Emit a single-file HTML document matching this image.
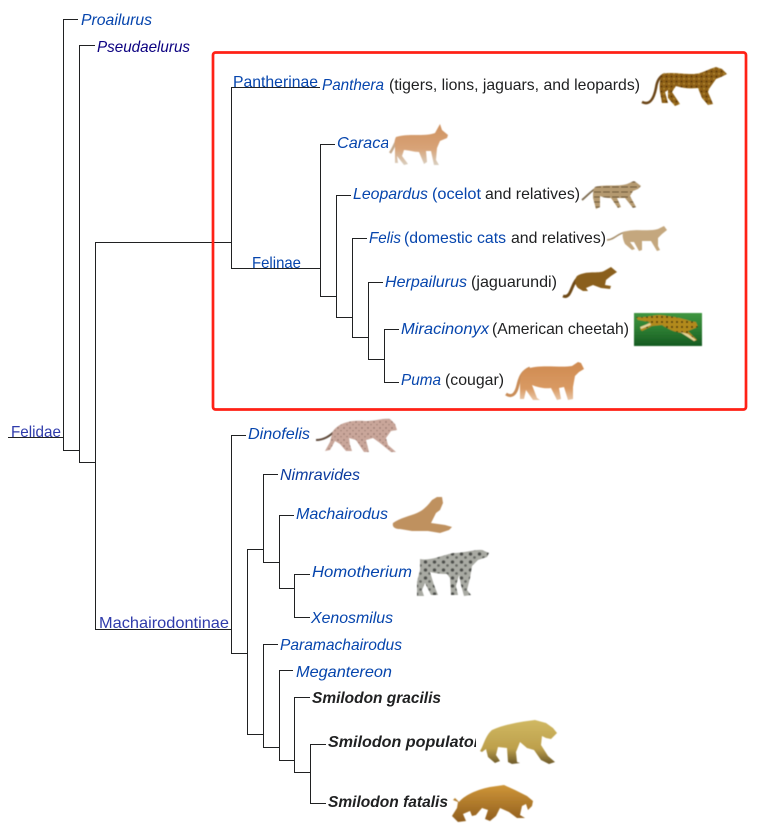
<!DOCTYPE html>
<html>
<head>
<meta charset="utf-8">
<style>
html,body{margin:0;padding:0;background:#fff;}
svg{display:block;}
text{font-family:"Liberation Sans",sans-serif;font-size:16px;}
.i{font-style:italic;fill:#0645ad;}
.n{fill:#0645ad;}
.v{fill:#2f3bab;}
.d{fill:#202122;}
.b{font-style:italic;font-weight:bold;fill:#202122;}
.l{fill:none;stroke:#202122;stroke-width:1;}
</style>
</head>
<body>
<svg width="772" height="824" viewBox="0 0 772 824" xmlns="http://www.w3.org/2000/svg">
<defs>
<filter id="s" x="-5%" y="-5%" width="110%" height="110%"><feGaussianBlur stdDeviation="0.5"/></filter>
<pattern id="leo" width="5" height="5" patternUnits="userSpaceOnUse"><rect width="5" height="5" fill="#8f6118"/><circle cx="1.5" cy="1.5" r=".9" fill="#4a2b0c"/><circle cx="4" cy="3.8" r=".7" fill="#c09a3a"/></pattern>
<pattern id="oce" width="9" height="5" patternUnits="userSpaceOnUse"><rect width="9" height="5" fill="#b59a70"/><rect y="1.5" width="7" height="1" fill="#5c4528"/></pattern>
<pattern id="din" width="6" height="6" patternUnits="userSpaceOnUse"><rect width="6" height="6" fill="#c9a69a"/><circle cx="2" cy="2" r=".7" fill="#80635a"/><circle cx="5" cy="4.6" r=".6" fill="#8e7066"/></pattern>
<pattern id="hom" width="9" height="8" patternUnits="userSpaceOnUse"><rect width="9" height="8" fill="#a9aaa3"/><circle cx="2.5" cy="2" r="1.8" fill="#4d504c"/><circle cx="6.5" cy="5.5" r="1.4" fill="#666964"/></pattern>
<pattern id="che" width="5" height="5" patternUnits="userSpaceOnUse"><rect width="5" height="5" fill="#b28a1e"/><circle cx="2" cy="2" r="1" fill="#3d2c0a"/></pattern>
<linearGradient id="gr" x1="0" y1="0" x2="0" y2="1"><stop offset="0" stop-color="#3f9640"/><stop offset=".55" stop-color="#2a7a30"/><stop offset="1" stop-color="#155a22"/></linearGradient>
<linearGradient id="pu" x1="0" y1="0" x2="0" y2="1"><stop offset="0" stop-color="#cf8a50"/><stop offset=".7" stop-color="#d99a63"/><stop offset="1" stop-color="#e8c6a6"/></linearGradient>
<linearGradient id="ca" x1="0" y1="0" x2="0" y2="1"><stop offset="0" stop-color="#cf9260"/><stop offset=".6" stop-color="#d8a377"/><stop offset="1" stop-color="#d9cfc0"/></linearGradient>
<linearGradient id="po" x1="0" y1="0" x2="0" y2="1"><stop offset="0" stop-color="#d0b862"/><stop offset=".65" stop-color="#bda04c"/><stop offset="1" stop-color="#6d5a2a"/></linearGradient>
<linearGradient id="fa" x1="0" y1="0" x2="0" y2="1"><stop offset="0" stop-color="#cf9638"/><stop offset="1" stop-color="#8f5d1e"/></linearGradient>
</defs>

<!-- connectors -->
<path class="l" d="M63.5 19.5H78M63.5 19V451M8 437.5H63.5M63 450.5H79.5"/>
<path class="l" d="M79.5 45.5H95M79.5 45V463M79 462.5H95.5"/>
<path class="l" d="M95.5 242V630M95 242.5H231.5M95 629.5H231.5"/>
<path class="l" d="M231.5 87V269M231 87.5H320M231 268.5H320.5"/>
<path class="l" d="M320.5 144V297M320 144.5H335M320 296.5H336.5"/>
<path class="l" d="M336.5 195V318M336 195.5H351M336 317.5H352.5"/>
<path class="l" d="M352.5 238V338M352 238.5H367M352 337.5H368.5"/>
<path class="l" d="M368.5 282V360M368 282.5H383M368 359.5H384.5"/>
<path class="l" d="M384.5 329V383M384 329.5H399M384 382.5H399"/>
<path class="l" d="M231.5 435V654M231 435.5H246M231 653.5H247.5"/>
<path class="l" d="M247.5 549V735M247 549.5H263.5M247 734.5H263.5"/>
<path class="l" d="M263.5 474V563M263 474.5H278M263 562.5H279.5"/>
<path class="l" d="M279.5 515V589M279 515.5H294M279 588.5H295"/>
<path class="l" d="M294.5 574V618M294 574.5H310M294 617.5H310"/>
<path class="l" d="M263.5 644V748M263 644.5H278M263 747.5H279.5"/>
<path class="l" d="M279.5 670V761M279 670.5H293M279 760.5H294.5"/>
<path class="l" d="M294.5 697V773M294 697.5H310M294 772.5H310.5"/>
<path class="l" d="M310.5 744V804M310 744.5H326M310 803.5H326"/>

<!-- labels -->
<text class="i" x="81" y="25" textLength="71" lengthAdjust="spacingAndGlyphs">Proailurus</text>
<text class="i" x="97" y="52" textLength="93" lengthAdjust="spacingAndGlyphs" style="fill:#0b0080">Pseudaelurus</text>
<text class="n" x="233" y="87" textLength="85" lengthAdjust="spacingAndGlyphs">Pantherinae</text>
<text class="i" x="322" y="90" textLength="62" lengthAdjust="spacingAndGlyphs">Panthera</text>
<text class="d" x="389" y="90" textLength="251" lengthAdjust="spacingAndGlyphs">(tigers, lions, jaguars, and leopards)</text>
<text class="i" x="337" y="148" textLength="56" lengthAdjust="spacingAndGlyphs">Caracal</text>
<text class="n" x="252" y="268" textLength="49" lengthAdjust="spacingAndGlyphs">Felinae</text>
<text class="i" x="353" y="199" textLength="75" lengthAdjust="spacingAndGlyphs">Leopardus</text>
<text class="n" x="432" y="199" textLength="49" lengthAdjust="spacingAndGlyphs">(ocelot</text>
<text class="d" x="485" y="199" textLength="95" lengthAdjust="spacingAndGlyphs">and relatives)</text>
<text class="i" x="369" y="243" textLength="32" lengthAdjust="spacingAndGlyphs">Felis</text>
<text class="n" x="404" y="243" textLength="102" lengthAdjust="spacingAndGlyphs">(domestic cats</text>
<text class="d" x="511" y="243" textLength="95" lengthAdjust="spacingAndGlyphs">and relatives)</text>
<text class="i" x="385" y="287" textLength="82" lengthAdjust="spacingAndGlyphs">Herpailurus</text>
<text class="d" x="471" y="287" textLength="86" lengthAdjust="spacingAndGlyphs">(jaguarundi)</text>
<text class="i" x="401" y="334" textLength="88" lengthAdjust="spacingAndGlyphs">Miracinonyx</text>
<text class="d" x="492" y="334" textLength="137" lengthAdjust="spacingAndGlyphs">(American cheetah)</text>
<text class="i" x="401" y="385" textLength="40" lengthAdjust="spacingAndGlyphs">Puma</text>
<text class="d" x="445" y="385" textLength="59" lengthAdjust="spacingAndGlyphs">(cougar)</text>
<text class="v" x="11" y="437" textLength="50" lengthAdjust="spacingAndGlyphs">Felidae</text>
<text class="v" x="99" y="628" textLength="130" lengthAdjust="spacingAndGlyphs">Machairodontinae</text>
<text class="i" x="248" y="439" textLength="62" lengthAdjust="spacingAndGlyphs">Dinofelis</text>
<text class="i" x="280" y="480" textLength="80" lengthAdjust="spacingAndGlyphs" style="fill:#0a3a9e">Nimravides</text>
<text class="i" x="296" y="519" textLength="92" lengthAdjust="spacingAndGlyphs">Machairodus</text>
<text class="i" x="312" y="577" textLength="100" lengthAdjust="spacingAndGlyphs">Homotherium</text>
<text class="i" x="311" y="623" textLength="82" lengthAdjust="spacingAndGlyphs">Xenosmilus</text>
<text class="i" x="280" y="650" textLength="122" lengthAdjust="spacingAndGlyphs">Paramachairodus</text>
<text class="i" x="296" y="677" textLength="96" lengthAdjust="spacingAndGlyphs">Megantereon</text>
<text class="b" x="312" y="703" textLength="129" lengthAdjust="spacingAndGlyphs">Smilodon gracilis</text>
<text class="b" x="328" y="747" textLength="152" lengthAdjust="spacingAndGlyphs">Smilodon populator</text>
<text class="b" x="328" y="807" textLength="120" lengthAdjust="spacingAndGlyphs">Smilodon fatalis</text>

<!-- clipping covers -->
<rect x="388" y="125" width="62" height="42" fill="#fff"/>
<rect x="476" y="718" width="82" height="48" fill="#fff"/>

<!-- animals -->
<g filter="url(#s)">
<!-- Panthera -->
<path fill="none" stroke="#6b4515" stroke-width="2.5" d="M642 102C650 106 654 98 656 88C657 80 660 76 665 74"/>
<path fill="url(#leo)" d="M662 74C672 71 690 76 700 73C706 71 712 68 716 67L722 69L727 74L721 77L716 79C712 85 709 88 708 92L713 104L708 105L702 98L698 88C690 89 682 88 676 86L672 92L680 104L675 106L668 98L668 90L665 92L668 103L662 103L660 92C659 84 660 78 662 74Z"/>
<!-- Caracal -->
<path fill="none" stroke="#c4a98c" stroke-width="2.5" d="M390 153C393 149 395 143 398 138"/>
<path fill="url(#ca)" d="M396 137C408 133 425 137 435 133L440 124L442 130L448 135L447 138L440 141L437 148L436 160L439 165L434 165L431 151L426 151L427 162L424 164L419 152C414 152 408 150 404 150L402 156L408 164L404 165L397 156L398 163L395 163L395 146C394 142 395 139 396 137Z"/>
<!-- Leopardus -->
<path fill="none" stroke="#7d6a50" stroke-width="1.8" d="M582 200C588 195 592 190 598 187"/>
<path fill="url(#oce)" d="M595 187C605 184 617 187 627 184L634 181L637 183L641 186L638 189L633 191L630 196L636 207L633 208L625 198L617 198L621 207L618 208L611 198C606 198 602 197 600 196L600 207L596 209L593 198C593 193 593 189 595 187Z"/>
<!-- Felis -->
<path fill="none" stroke="#a58c68" stroke-width="1.5" d="M607 240C614 240 618 233 626 232"/>
<path fill="#c4a77e" d="M623 232C635 228 648 232 658 229L664 226L667 230L662 234L658 238L658 246L660 250L657 251L651 241L642 241L642 250L639 251L634 242L630 242L635 249L632 250L625 244C623 240 622 235 623 232Z"/>
<!-- Herpailurus -->
<path fill="none" stroke="#6e4a16" stroke-width="3" d="M563 296C568 298 570 293 572 288C574 283 576 279 580 276"/>
<path fill="#8a5f1c" d="M577 276C587 270 598 274 604 271L611 267L617 272L611 276L606 280L605 285L611 286L610 289L601 288L593 285L586 288L588 291L583 291L578 288C575 285 574 280 577 276Z"/>
<!-- Miracinonyx -->
<rect x="634" y="313" width="68" height="33" fill="url(#gr)"/>
<path fill="url(#che)" d="M636 317C645 318 652 315 660 315C670 316 682 318 690 321L696 322L698 327L693 329L688 331L697 340L694 341L682 333C674 332 668 329 662 325L652 326L642 331L640 329L650 322L638 320Z"/>
<path fill="#e6d59a" d="M640 327L650 323L651 325L641 329ZM680 332L688 334L696 340L694 341Z"/>
<!-- Puma -->
<path fill="none" stroke="#c98d58" stroke-width="3" d="M506 394C512 398 516 394 518 385C520 376 523 371 530 368"/>
<path fill="url(#pu)" d="M526 369C540 364 560 368 572 366L578 362L581 363L584 369L579 372L575 376L573 387L573 399L568 400L564 387L559 388L561 399L557 400L551 388C544 389 537 387 532 385L537 398L540 400L533 400L526 390L524 399L520 399L520 388C520 378 521 372 526 369Z"/>
<!-- Dinofelis -->
<path fill="none" stroke="#5e4a3a" stroke-width="2" d="M316 440C324 440 330 436 336 430"/>
<path fill="url(#din)" d="M333 431C340 422 352 420 365 421C375 421 383 418 390 419L395 424L397 430L391 431L386 438L388 445L396 452L391 452L380 443L373 438L366 440L369 452L364 452L356 440L349 438L350 445L352 451L346 451L340 444L335 441L330 450L325 451L330 442C331 438 332 434 333 431Z"/>
<!-- Machairodus -->
<path fill="#bf915e" d="M393 523C400 518 410 516 417 513C424 510 428 505 432 500L437 497L442 497L443 503L440 510L436 513L431 523L445 525L452 527L449 530L440 533L428 531L412 531L400 529C395 529 392 527 393 523Z"/>
<!-- Homotherium -->
<path fill="url(#hom)" d="M420 559C430 561 440 556 453 553C465 553 475 549 482 550L489 553L487 557L478 560L472 566L470 578L467 590L471 595L464 596L461 585L459 575L456 586L458 595L451 595L450 578L447 574C440 574 434 573 430 572L434 585L438 595L431 595L425 583L422 590L424 596L417 596L417 582L420 570Z"/>
<!-- S. populator -->
<path fill="url(#po)" d="M480 751C484 745 485 736 492 730C503 725 518 722 535 720L546 723L553 728L557 733L554 736L551 739L546 738L542 736L541 745L548 756L555 762L549 764L541 760L534 750L527 748L520 742L516 752L517 762L520 763L512 764L508 762L507 748L498 747L496 755L500 761L495 763L488 757L486 749L482 752Z"/>
<!-- S. fatalis -->
<path fill="url(#fa)" d="M455 798L459 802C464 796 475 790 490 787L504 785L515 790L527 796L533 801L532 806L528 810L526 804L522 806L520 815L525 818L517 818L509 812L500 808L496 816L490 821L485 819L488 810L482 808L476 815L472 816L470 811L463 814L466 821L458 822L452 816L457 808L458 802L453 800Z"/>
</g>

<!-- highlight box -->
<rect x="213" y="52.5" width="533" height="357" rx="2.5" ry="2.5" fill="none" stroke="#ff2116" stroke-width="2.7"/>
</svg>
</body>
</html>
